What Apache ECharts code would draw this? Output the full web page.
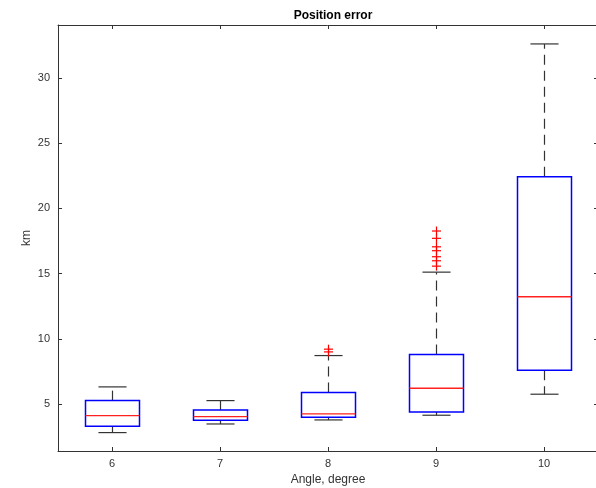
<!DOCTYPE html>
<html>
<head>
  <meta charset="utf-8">
  <title>Position error</title>
</head>
<body style="margin:0;">
<div id="main" style="width:596px;height:488px;"></div>
<script src="https://cdn.jsdelivr.net/npm/echarts@6/dist/echarts.min.js"></script>
<script>
  // angle categories and box statistics (km)
  var angles = ['6', '7', '8', '9', '10'];
  var whiskerLow = [2.83, 3.49, 3.80, 4.16, 5.77];
  var q1 = [3.31, 3.77, 4.00, 4.41, 7.61];
  var median = [4.13, 4.05, 4.26, 6.23, 13.23];
  var q3 = [5.28, 4.56, 5.90, 8.81, 22.43];
  var whiskerHigh = [6.33, 5.28, 8.73, 15.12, 32.60];
  // outliers: [category index, value]
  var outliers = [
    [2, 9.01], [2, 9.22],
    [3, 15.58], [3, 15.99], [3, 16.30], [3, 16.76], [3, 17.06], [3, 17.71], [3, 18.27]
  ];
  var yTicks = [5, 10, 15, 20, 25, 30];

  var boxData = angles.map(function (a, i) {
    return [i, whiskerLow[i], q1[i], median[i], q3[i], whiskerHigh[i]];
  });

  var myChart = echarts.init(document.getElementById('main'));

  function renderBox(params, api) {
    var i = api.value(0);
    var band = api.size([1, 0])[0];
    var hb = band * 0.25, hc = band * 0.13;
    var pLow = api.coord([i, api.value(1)]);
    var pQ1 = api.coord([i, api.value(2)]);
    var pMed = api.coord([i, api.value(3)]);
    var pQ3 = api.coord([i, api.value(4)]);
    var pHigh = api.coord([i, api.value(5)]);
    var x = Math.round(pMed[0]) + 0.5;
    var dash = {stroke: '#333', lineWidth: 1.2, lineDash: [10, 6]};
    var solid = {stroke: '#333', lineWidth: 1.2};
    return {
      type: 'group',
      children: [
        {type: 'line', shape: {x1: x, y1: pQ3[1], x2: x, y2: pHigh[1]}, style: dash},
        {type: 'line', shape: {x1: x, y1: pQ1[1], x2: x, y2: pLow[1]}, style: dash},
        {type: 'line', shape: {x1: x - hc, y1: pHigh[1], x2: x + hc, y2: pHigh[1]}, style: solid},
        {type: 'line', shape: {x1: x - hc, y1: pLow[1], x2: x + hc, y2: pLow[1]}, style: solid},
        {type: 'rect', shape: {x: x - hb, y: pQ3[1], width: hb * 2, height: pQ1[1] - pQ3[1]},
          style: {fill: '#fff', stroke: '#0000ff', lineWidth: 1.5}},
        {type: 'line', shape: {x1: x - hb, y1: pMed[1], x2: x + hb, y2: pMed[1]},
          style: {stroke: '#ff2020', lineWidth: 1.4}}
      ]
    };
  }

  function renderOutlier(params, api) {
    var p = api.coord([api.value(0), api.value(1)]);
    var x = Math.round(p[0]) + 0.5, y = p[1], s = 4.5;
    var st = {stroke: '#ff0000', lineWidth: 1.2};
    return {
      type: 'group',
      children: [
        {type: 'line', shape: {x1: x - s, y1: y, x2: x + s, y2: y}, style: st},
        {type: 'line', shape: {x1: x, y1: y - s, x2: x, y2: y + s}, style: st}
      ]
    };
  }

  var labelStyle = {color: '#333', fontSize: 11, fontFamily: 'Liberation Sans'};
  var tickStyle = {color: '#333', width: 1};

  myChart.setOption({
    animation: false,
    title: {
      text: 'Position error',
      left: 328,
      textAlign: 'center',
      top: 5,
      textStyle: {fontSize: 12, fontWeight: 'bold', color: '#000', fontFamily: 'Liberation Sans'}
    },
    grid: {left: 58, top: 25, width: 540, height: 426, containLabel: false, outerBoundsMode: 'none'},
    xAxis: [{
      type: 'category',
      data: angles,
      boundaryGap: true,
      name: 'Angle, degree',
      nameLocation: 'middle',
      nameGap: 23,
      nameTextStyle: {color: '#333', fontSize: 12, fontFamily: 'Liberation Sans'},
      axisLine: {lineStyle: {color: '#333', width: 1}},
      axisTick: {show: true, inside: true, alignWithLabel: true, length: 4, lineStyle: tickStyle},
      axisLabel: Object.assign({margin: 7}, labelStyle),
      splitLine: {show: false}
    }, {
      type: 'category',
      data: angles,
      position: 'top',
      boundaryGap: true,
      axisLine: {lineStyle: {color: '#333', width: 1}},
      axisTick: {show: true, inside: true, alignWithLabel: true, length: 4, lineStyle: tickStyle},
      axisLabel: {show: false}
    }],
    yAxis: [{
      type: 'value',
      min: 1.42,
      max: 34.05,
      name: 'km',
      nameLocation: 'middle',
      nameGap: 25,
      nameMoveOverlap: false,
      nameTextStyle: {color: '#333', fontSize: 12, fontFamily: 'Liberation Sans'},
      axisLine: {show: true, lineStyle: {color: '#333', width: 1}},
      axisTick: {show: true, inside: true, length: 4, customValues: yTicks, lineStyle: tickStyle},
      axisLabel: Object.assign({margin: 8, customValues: yTicks}, labelStyle),
      splitLine: {show: false}
    }, {
      type: 'value',
      position: 'right',
      min: 1.42,
      max: 34.05,
      axisLine: {show: true, lineStyle: {color: '#333', width: 1}},
      axisTick: {show: true, inside: true, length: 4, customValues: yTicks, lineStyle: tickStyle},
      axisLabel: {show: false},
      splitLine: {show: false}
    }],
    series: [{
      type: 'custom',
      renderItem: renderBox,
      data: boxData,
      encode: {x: 0, y: [1, 2, 3, 4, 5]},
      z: 2
    }, {
      type: 'custom',
      renderItem: renderOutlier,
      data: outliers,
      encode: {x: 0, y: 1},
      z: 3
    }]
  });
</script>
</body>
</html>
